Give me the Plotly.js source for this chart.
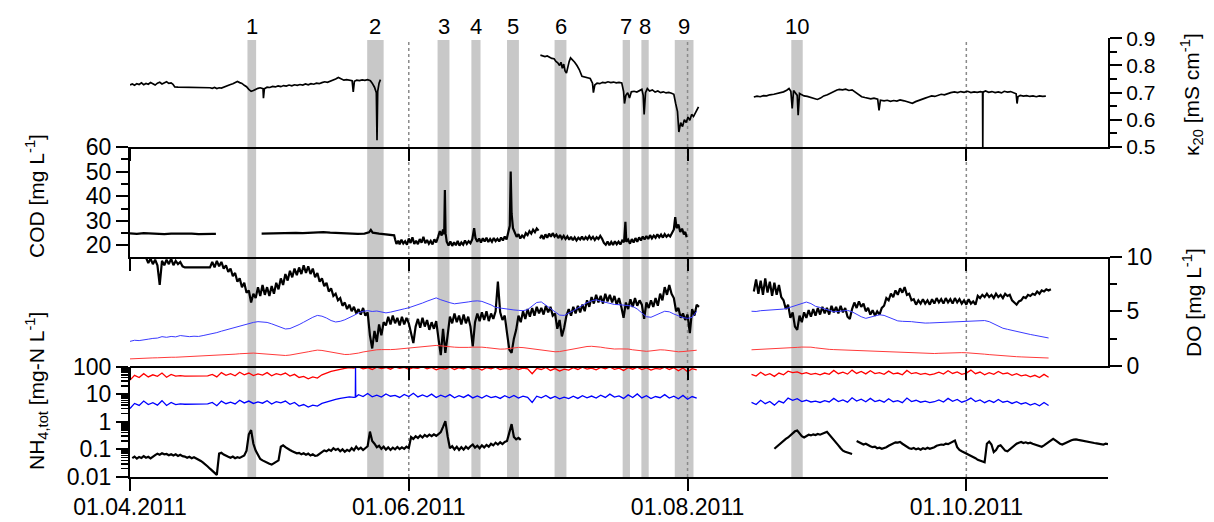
<!DOCTYPE html>
<html><head><meta charset="utf-8">
<script src="https://cdn.plot.ly/plotly-3.0.1.min.js"></script>
<style>html,body{margin:0;padding:0;background:#fff}#chart{width:1214px;height:522px}</style>
</head><body><div id="chart"></div>
<script>
// ---------------- DATA (days counted from 01.04.2011 00:00) ----------------
// Event periods (grey bands) and their numbers
const eventStart = [25.7, 51.9, 67.3, 74.7, 82.5, 92.9, 107.8, 111.9, 119.2, 144.7];
const eventEnd   = [27.6, 55.5, 69.9, 76.7, 85.1, 95.5, 109.4, 113.5, 123.3, 147.2];
const eventLabels = ['1','2','3','4','5','6','7','8','9','10'];

// x-axis tick dates and labels
const dateTicks = ['2011-04-01','2011-06-01','2011-08-01','2011-10-01'];
const dateTickText = ['01.04.2011','01.06.2011','01.08.2011','01.10.2011'];
const refLineDates = ['2011-06-01','2011-08-01','2011-10-01'];

// kappa20 conductivity [mS/cm]: [day, value]
const kappa = [
[0,.728],[0.5,.732],[1,.727],[1.5,.733],[2,.730],[2.5,.736],[3,.729],[3.5,.734],[4,.731],[4.5,.737],
[5,.733],[5.5,.728],[6,.735],[6.5,.738],[7,.732],[7.5,.736],[8,.740],[8.5,.734],[9,.736],[9.4,.731],
[9.8,.721],[10.5,.720],[12,.720],[14,.719],[16,.719],[17.5,.718],[18,.716],[18.5,.719],[19,.715],[19.5,.718],
[20,.717],[20.5,.721],[21,.724],[21.5,.727],[22,.730],[22.5,.733],[23,.736],[23.5,.741],[24,.737],[24.5,.734],
[25,.727],[25.5,.722],[26,.712],[26.5,.705],[27,.708],[27.5,.713],[28,.716],[28.5,.718],[29.1,.715],[29.2,.680],
[29.4,.714],[30,.720],[30.6,.719],[31.2,.723],[31.8,.721],[32.4,.725],[33,.722],[33.6,.726],[34.2,.724],[34.8,.728],
[35.4,.725],[36,.729],[36.6,.727],[37.2,.730],[37.8,.728],[38.4,.732],[39,.729],[39.6,.733],[40.2,.731],[40.8,.735],
[41.4,.733],[42,.737],[42.6,.740],[43.2,.738],[43.8,.742],[44.4,.745],[45,.750],[45.6,.756],[46.2,.750],[46.8,.746],
[47.4,.748],[48,.745],[48.6,.744],[48.85,.703],[49.1,.742],[49.6,.746],[50.2,.744],[50.8,.747],[51.4,.745],[52,.748],
[52.6,.744],[53,.735],[53.5,.720],[53.9,.700],[54.05,.525],[54.2,.705],[54.5,.735],[54.8,.748],[56,null],
[89.8,.838],[90.3,.836],[90.8,.833],[91.3,.835],[91.8,.829],[92.3,.826],[92.8,.825],[93.2,.815],[93.6,.810],[94.0,.800],
[94.3,.812],[94.6,.790],[94.9,.805],[95.2,.780],[95.5,.772],[95.8,.800],[96.1,.815],[96.4,.828],[96.8,.822],[97.3,.812],
[97.8,.800],[98.3,.785],[98.9,.760],[99.5,.758],[100.1,.756],[100.7,.752],[101.2,.735],[101.4,.700],[101.7,.728],[102.2,.735],
[102.8,.733],[103.4,.738],[104.0,.736],[104.6,.740],[105.2,.737],[105.8,.739],[106.4,.736],[107.0,.738],[107.6,.736],[108.0,.705],
[108.2,.660],[108.5,.690],[108.9,.700],[109.3,.680],[109.7,.703],[110.3,.705],[110.9,.702],[111.5,.708],[112.0,.712],[112.3,.690],
[112.5,.620],[112.8,.700],[113.2,.715],[113.7,.706],[114.3,.710],[114.9,.702],[115.5,.706],[116.1,.700],[116.7,.703],[117.3,.699],
[117.9,.701],[118.5,.698],[119.0,.694],[119.4,.660],[119.8,.630],[120.1,.555],[120.5,.590],[120.9,.575],[121.3,.600],[121.7,.590],
[122.1,.610],[122.5,.598],[122.9,.620],[123.3,.612],[123.7,.628],[124.0,.635],[124.4,.648],[130,null],
[136.5,.684],[137.2,.687],[137.9,.685],[138.6,.689],[139.3,.688],[140.0,.692],[140.9,.694],[141.6,.697],[142.3,.699],[143.0,.703],
[143.7,.709],[144.2,.715],[144.6,.705],[144.9,.642],[145.2,.708],[145.6,.700],[146.0,.690],[146.2,.617],[146.5,.697],[146.9,.693],
[147.5,.688],[148.2,.686],[148.9,.683],[149.6,.679],[150.4,.675],[151.1,.680],[151.8,.688],[152.6,.692],[153.3,.698],[154.0,.705],
[154.7,.710],[155.2,.712],[155.9,.710],[156.6,.713],[157.3,.708],[158.0,.710],[158.7,.702],[159.4,.692],[160.1,.685],[160.8,.682],
[161.5,.679],[162.1,.677],[162.8,.680],[163.6,.676],[163.9,.635],[164.2,.672],[165.0,.670],[165.7,.672],[166.4,.668],[167.1,.671],
[167.8,.669],[168.5,.673],[169.4,.670],[170.2,.666],[171.2,.661],[171.9,.667],[172.6,.672],[173.3,.676],[174.0,.680],[174.7,.684],
[175.4,.688],[176.1,.686],[176.8,.691],[177.5,.694],[178.2,.692],[178.9,.697],[179.6,.700],[180.4,.703],[181.1,.700],[181.8,.704],
[182.5,.701],[183.3,.705],[184.0,.700],[184.7,.703],[185.4,.701],[186.1,.704],[186.55,.702],[186.6,.500],[186.65,.702],[187.2,.706],
[187.9,.701],[188.6,.704],[189.3,.700],[190.0,.703],[190.7,.699],[191.3,.705],[192.0,.702],[192.7,.704],[193.4,.700],[193.9,.696],
[194.1,.660],[194.3,.685],[194.8,.690],[195.5,.687],[196.2,.689],[196.9,.686],[197.6,.688],[198.3,.685],[199.0,.688],[199.7,.686],
[200.4,.687]
];

// COD [mg/L]: [day, value]
const cod = [
[0,24.9],[1.5,24.7],[3,25.0],[4.5,24.8],[6,24.9],[7.5,24.6],[9,24.8],[10.5,24.9],[12,24.7],[13.5,24.8],
[15,24.6],[16.5,24.8],[18,24.7],[18.8,24.7],[23,null],
[28.8,24.8],[30.3,24.9],[31.8,24.7],[33.3,25.0],[34.8,24.9],[36.3,25.1],[37.8,25.0],[39.3,25.2],[40.8,25.1],[42.3,25.4],
[43.8,25.2],[45.3,25.0],[46.8,24.9],[48.3,24.8],[49.8,24.7],[51.3,24.8],[52.3,25.3],[52.7,26.3],[53.1,25.2],[54.5,24.8],
[56,24.6],[57.3,24.4],[57.8,24.1],
[58.0,22.5],[58.3,20.6],[58.7,21.9],[59.0,20.4],[59.4,22.3],[59.8,20.8],[60.2,21.7],[60.6,20.3],[61.0,22.8],[61.4,21.0],
[61.8,23.3],[62.2,20.6],[62.6,21.9],[63.0,20.5],[63.4,22.6],[63.8,21.1],[64.2,23.5],[64.6,20.9],[65.0,22.2],[65.4,20.7],
[65.8,21.8],[66.2,20.4],[66.6,22.5],[67.0,21.2],[67.4,23.4],[67.8,25.8],[68.2,24.0],[68.5,26.5],[68.75,24.5],[68.9,42.5],
[69.05,25.0],[69.3,21.5],[69.7,20.0],[70.1,21.6],[70.5,19.8],[70.9,21.3],[71.3,20.1],[71.7,21.8],[72.1,19.9],[72.5,21.2],
[72.9,20.3],[73.3,22.0],[73.7,20.6],[74.1,21.7],[74.5,20.9],[74.9,22.5],[75.3,27.0],[75.6,23.0],[76.0,21.5],[76.4,22.8],
[76.8,21.2],[77.2,22.9],[77.6,21.6],[78.0,23.1],[78.4,21.4],[78.8,22.6],[79.2,21.5],[79.6,23.0],[80.0,21.8],[80.4,22.7],
[80.8,21.6],[81.2,23.2],[81.6,22.0],[82.0,23.6],[82.4,22.4],[82.8,25.0],[83.1,28.0],[83.3,50.0],[83.5,33.0],[83.8,27.0],
[84.2,25.5],[84.6,23.5],[85.0,24.6],[85.4,22.8],[85.8,24.0],[86.2,23.2],[86.6,25.0],[87.0,24.2],[87.4,25.8],[87.8,24.8],
[88.2,26.4],[88.6,25.4],[89.0,26.9],[89.4,26.0],[89.55,null],
[89.7,22.8],[90.1,24.2],[90.5,22.6],[90.9,24.5],[91.3,23.1],[91.7,24.8],[92.1,23.5],[92.5,25.0],[92.9,23.6],[93.3,24.4],
[93.7,23.0],[94.1,24.2],[94.5,22.8],[94.9,23.9],[95.3,22.6],[95.7,23.7],[96.1,22.3],[96.5,23.5],[96.9,22.1],[97.3,23.3],
[97.7,22.0],[98.1,23.1],[98.5,22.4],[98.9,23.6],[99.3,22.2],[99.7,23.4],[100.1,22.5],[100.5,23.8],[100.9,22.6],[101.3,23.5],
[101.7,22.2],[102.1,23.3],[102.5,22.6],[102.9,23.9],[103.3,22.7],[103.7,21.0],[104.1,20.3],[104.5,21.6],[104.9,20.1],[105.3,21.4],
[105.7,20.2],[106.1,21.7],[106.5,20.5],[106.9,21.5],[107.3,20.4],[107.7,22.0],[108.1,21.3],[108.4,29.6],[108.6,21.5],[109.0,22.4],
[109.4,20.7],[109.8,22.6],[110.2,21.2],[110.6,23.0],[111.0,21.5],[111.4,23.3],[111.8,22.0],[112.2,23.6],[112.6,22.4],[113.0,23.8],
[113.4,22.6],[113.8,24.2],[114.2,22.9],[114.6,24.0],[115.0,23.1],[115.4,24.5],[115.8,23.3],[116.2,24.4],[116.6,23.2],[117.0,24.6],
[117.4,23.5],[117.8,24.3],[118.2,23.6],[118.6,25.0],[119.0,26.5],[119.3,31.5],[119.6,27.0],[120.0,28.5],[120.4,25.5],[120.8,26.8],
[121.2,24.5],[121.5,25.5],[121.8,23.3]
];

// DO [mg/L], black, sampled every 0.5 day
const doStep = 0.5;
const doBlackStartA = 3.5;
const doBlackA = [
9.9,9.4,9.8,9.3,9.7,9.2,7.4,9.6,9.2,9.7,
9.3,9.8,9.2,9.6,9.3,9.5,9.1,9.0,9.0,9.0,
9.0,9.0,9.0,9.0,9.0,9.0,9.0,9.0,9.0,9.5,
9.0,9.6,9.1,9.5,8.9,9.2,8.6,8.9,8.2,8.5,
7.7,8.0,7.2,7.6,6.7,6.9,5.8,6.6,6.2,7.2,
6.4,7.4,6.5,7.2,6.4,7.3,6.6,7.6,7.0,8.0,
7.4,8.4,7.8,8.7,8.1,8.9,8.3,9.0,8.4,9.2,
8.5,9.1,8.4,8.9,8.1,8.5,7.7,8.0,7.3,7.6,
6.8,7.1,6.4,6.6,6.0,6.2,5.5,5.8,5.2,5.6,
5.0,5.4,4.8,5.2,4.7,5.3,4.6,4.9,2.8,1.6,
3.2,2.2,3.8,2.8,4.0,3.7,4.5,3.8,4.6,3.9,
4.4,3.7,4.5,3.8,4.4,3.9,3.0,2.1,3.6,4.3,
3.5,4.4,3.6,4.2,3.3,4.0,3.4,4.1,2.5,1.0,
3.4,1.2,2.8,4.5,3.9,4.8,4.0,4.6,3.8,4.7,
3.9,4.5,3.6,1.8,4.0,4.8,4.1,4.9,4.2,5.0,
4.1,4.8,4.3,5.0,7.7,4.9,4.2,4.6,3.0,1.5,
1.2,2.5,3.3,4.6,4.0,5.0,4.3,5.2,4.5,5.3,
4.6,5.4,4.8,5.3,4.7,5.5,4.9,5.4,4.6,4.8,
3.4,4.2,2.7,3.5,4.6,5.2,4.6,5.4,4.8,5.5,
4.9,5.6,5.0,6.0,5.4,6.3,5.7,6.5,5.8,6.4,
5.7,6.6,5.9,6.5,5.8,6.4,5.6,6.2,5.4,4.4,
5.8,5.2,6.1,5.4,6.2,5.5,6.0,5.6,4.3,5.8,
5.3,6.0,5.4,6.2,5.5,6.6,6.0,7.2,6.5,7.4,
6.6,6.2,5.0,5.3,4.4,4.8,4.2,4.7,3.0,5.2,
4.6,5.6,5.4
];
const doBlackStartB = 136.5;
const doBlackB = [
6.8,7.9,6.6,7.8,6.5,8.0,6.7,7.7,6.4,7.6,
6.5,7.4,6.3,6.0,5.2,5.6,4.4,4.9,3.6,3.3,
4.6,4.0,4.9,4.4,5.1,4.5,5.2,4.6,5.3,4.7,
5.4,4.8,5.3,4.7,5.5,4.9,5.4,4.8,5.5,4.9,
5.3,4.5,4.3,5.2,5.8,5.3,5.9,5.4,5.7,5.0,
5.3,4.7,5.1,4.6,5.0,4.7,5.3,5.5,6.2,6.0,
6.6,6.3,6.9,6.5,7.1,6.7,7.2,6.5,6.6,6.0,
6.1,5.6,6.0,5.7,6.1,5.7,6.0,5.6,6.1,5.7,
6.2,5.8,6.1,5.7,6.2,5.8,6.1,5.7,6.2,5.8,
6.1,5.7,6.0,5.6,6.1,5.7,5.9,5.6,6.4,6.2,
6.5,6.3,6.6,6.3,6.5,6.2,6.6,6.3,6.5,6.2,
6.6,6.4,6.5,6.0,5.8,5.6,5.9,6.0,6.3,6.2,
6.5,6.4,6.6,6.5,6.8,6.6,6.9,6.8,7.0,6.9,
7.0
];

// Blue and red series on the DO axis, sampled daily
const dailyStep = 1;
const blueDoStartA = 0;
const blueDoA = [
2.25,2.35,2.32,2.42,2.45,2.52,2.55,2.68,2.62,2.70,
2.66,2.78,2.70,2.68,2.72,2.70,2.78,2.85,2.92,3.05,
3.18,3.30,3.42,3.55,3.68,3.78,3.90,3.98,4.05,4.02,
3.98,3.85,3.70,3.52,3.38,3.42,3.58,3.78,4.00,4.25,
4.45,4.62,4.55,4.38,4.15,4.02,4.08,4.22,4.40,4.62,
4.85,5.00,5.05,4.98,5.02,4.90,4.85,4.92,5.00,5.10,
5.22,5.32,5.45,5.60,5.75,5.92,6.10,6.22,6.05,5.90,
5.78,5.68,5.72,5.80,5.85,5.92,5.95,5.90,5.75,5.58,
5.35,5.28,5.22,5.18,5.12,5.08,5.05,5.15,5.45,5.80,
5.85,5.55,5.20,4.90,4.65,4.62,4.80,5.05,5.30,5.55,
5.78,5.95,6.05,5.92,5.80,5.70,5.62,5.60,5.58,5.52,
5.45,5.20,4.85,4.50,4.45,4.60,4.82,5.00,4.95,4.75,
4.55,4.42,4.35,4.45,5.00
];
const blueDoStartB = 136;
const blueDoB = [
5.00,4.98,5.05,5.08,5.05,5.12,5.15,5.20,5.30,5.45,
5.60,5.72,5.84,5.70,5.45,5.35,5.20,5.05,4.95,4.98,
5.05,5.08,4.95,4.70,4.50,4.35,4.45,4.60,4.68,4.62,
4.45,4.25,4.12,4.08,4.10,4.05,4.00,3.95,3.92,3.93,
3.95,3.98,3.96,4.00,4.03,4.05,4.08,4.10,4.12,4.15,
4.17,4.15,4.05,3.85,3.62,3.45,3.35,3.25,3.12,3.05,
2.98,2.88,2.80,2.72,2.62,2.56
];
const redDoStartA = 0;
const redDoA = [
0.65,0.68,0.70,0.72,0.72,0.74,0.75,0.78,0.78,0.80,
0.80,0.82,0.82,0.84,0.85,0.86,0.88,0.90,0.92,0.95,
0.98,1.02,1.05,1.08,1.12,1.15,1.18,1.18,1.15,1.12,
1.10,1.06,1.02,0.98,0.96,1.00,1.06,1.14,1.22,1.30,
1.38,1.45,1.42,1.35,1.25,1.15,1.08,1.05,1.06,1.10,
1.18,1.28,1.36,1.44,1.48,1.50,1.48,1.50,1.52,1.56,
1.62,1.66,1.70,1.74,1.78,1.82,1.86,1.88,1.84,1.78,
1.74,1.72,1.70,1.68,1.70,1.72,1.74,1.72,1.68,1.62,
1.56,1.54,1.55,1.60,1.66,1.70,1.68,1.62,1.55,1.48,
1.42,1.36,1.32,1.30,1.32,1.40,1.50,1.60,1.68,1.74,
1.78,1.80,1.78,1.72,1.65,1.58,1.55,1.56,1.58,1.55,
1.48,1.42,1.36,1.34,1.38,1.44,1.48,1.46,1.40,1.34,
1.30,1.32,1.38,1.42,1.44
];
const redDoStartB = 136;
const redDoB = [
1.48,1.50,1.50,1.52,1.54,1.55,1.57,1.58,1.62,1.66,
1.70,1.73,1.75,1.72,1.66,1.60,1.55,1.52,1.50,1.48,
1.46,1.44,1.42,1.40,1.38,1.37,1.35,1.33,1.31,1.29,
1.27,1.25,1.23,1.21,1.19,1.17,1.15,1.14,1.13,1.13,
1.14,1.16,1.18,1.20,1.21,1.22,1.22,1.21,1.19,1.16,
1.12,1.08,1.04,1.00,0.97,0.94,0.91,0.88,0.85,0.83,
0.81,0.79,0.77,0.75,0.74,0.73
];

// NH4,tot panel [mg-N/L], red and blue daily
const redNStartA = 0;
const redNA = [
32,48,40,55,42,50,44,58,41,52,
45,47,45,45,45,45,45,46,52,42,
60,48,55,46,62,50,58,47,54,49,
60,46,55,50,58,45,52,40,44,36,
42,38,50,58,66,72,80,85,92,88,
96,82,90,78,95,84,92,80,97,86,
93,79,90,85,98,82,92,76,88,80,
94,78,90,83,97,80,88,74,91,82,
95,78,86,80,93,77,88,82,55,85,
78,92,72,84,68,80,74,90,78,94,
80,88,76,92,82,96,79,87,72,91,
80,94,77,89,74,86,80,95,78,90,
70,88,65,84,75
];
const redNStartB = 136;
const redNB = [
52,45,62,48,55,44,58,50,68,60,
64,54,60,52,56,50,58,52,72,55,
62,53,74,56,66,54,70,55,60,52,
68,54,58,50,72,55,60,52,56,50,
54,62,53,70,56,64,52,58,74,55,
63,50,60,52,66,54,58,48,55,46,
50,42,48,40,52,41
];
const blueNStartA = 0;
const blueNA = [
3.0,4.6,3.9,5.6,4.2,4.9,4.0,5.8,3.9,5.0,
4.2,4.4,4.3,4.3,4.3,4.3,4.3,4.4,5.0,3.8,
5.6,4.5,5.1,4.4,6.0,4.8,5.6,4.6,5.2,4.7,
5.8,4.4,5.3,4.8,5.6,4.3,5.0,3.7,4.2,3.4,
4.0,3.7,4.6,5.2,5.8,6.4,7.0,7.4,8.0,7.6,
9.5,8.2,10.5,8.0,9.2,7.8,10.2,8.4,9.0,7.6,
9.8,8.2,10.8,7.9,9.4,8.0,10.0,7.5,9.2,7.8,
9.6,7.4,8.8,7.6,9.4,7.3,8.6,7.2,9.0,7.5,
8.2,7.0,8.8,7.4,9.0,7.2,8.5,7.6,5.0,8.4,
7.3,9.0,7.0,8.2,6.8,7.8,6.9,8.4,7.0,8.8,
7.4,8.5,7.2,9.2,7.6,10.0,7.8,8.6,7.0,9.4,
7.5,10.2,7.3,8.8,6.9,8.2,7.4,9.6,7.2,8.4,
6.8,9.0,6.5,8.2,7.2
];
const blueNSpike = [[49.3,7.7],[49.35,95],[49.4,7.8]];
const blueNStartB = 136;
const blueNB = [
5.0,4.2,6.0,4.5,5.4,4.0,5.6,4.8,7.2,6.0,
6.8,5.4,6.0,5.2,5.6,5.0,5.8,5.2,7.0,5.4,
6.2,5.1,7.4,5.6,6.6,5.3,7.0,5.4,6.0,5.1,
6.8,5.3,5.8,4.9,7.2,5.4,6.0,5.1,5.6,4.9,
5.3,6.2,5.2,7.0,5.5,6.4,5.1,5.8,7.2,5.4,
6.2,4.9,5.9,5.0,6.4,5.1,5.6,4.6,5.3,4.4,
4.9,4.0,4.6,3.8,5.0,3.9
];
// NH4,tot (black), every 0.5 day
const nh4Step = 0.5;
const nh4StartA = 0.5;
const nh4A = [
0.048,0.055,0.046,0.053,0.049,0.057,0.050,0.054,0.047,0.056,
0.062,0.070,0.064,0.072,0.066,0.068,0.061,0.067,0.060,0.066,
0.058,0.064,0.057,0.055,0.050,0.054,0.048,0.052,0.047,0.045,
0.038,0.033,0.027,0.024,0.020,0.017,0.014,0.012,0.070,0.075,
0.065,0.058,0.054,0.050,0.055,0.048,0.052,0.049,0.055,0.060,
0.090,0.350,0.500,0.160,0.090,0.060,0.045,0.040,0.036,0.032,
0.030,0.028,0.032,0.035,0.040,0.125,0.140,0.120,0.110,0.095,
0.085,0.080,0.072,0.075,0.066,0.072,0.064,0.070,0.060,0.066,
0.058,0.060,0.068,0.080,0.092,0.085,0.098,0.088,0.110,0.095,
0.105,0.085,0.100,0.082,0.096,0.086,0.110,0.092,0.125,0.100,
0.115,0.095,0.108,0.130,0.440,0.200,0.160,0.120,0.135,0.105,
0.125,0.098,0.118,0.095,0.115,0.100,0.122,0.102,0.118,0.104,
0.125,0.110,0.280,0.240,0.300,0.260,0.320,0.270,0.330,0.290,
0.340,0.300,0.350,0.310,0.360,0.420,0.650,1.050,0.300,0.110,
0.130,0.100,0.125,0.095,0.120,0.098,0.125,0.105,0.130,0.150,
0.115,0.135,0.110,0.140,0.118,0.145,0.125,0.160,0.140,0.175,
0.150,0.180,0.155,0.185,0.200,0.450,0.820,0.280,0.230,0.260,
0.220
];
const nh4StartB = 141.0;
const nh4B = [
0.105,0.125,0.150,0.180,0.200,0.240,0.270,0.320,0.380,0.450,
0.480,0.360,0.300,0.270,0.310,0.340,0.320,0.350,0.330,0.360,
0.340,0.380,0.400,0.430,0.350,0.280,0.220,0.180,0.140,0.110,
0.090,0.082,0.078,0.072,0.068,null,0.200,0.180,0.165,0.150,
0.160,0.140,0.130,0.120,0.125,0.110,0.115,0.105,0.110,0.120,
0.135,0.150,0.165,0.180,0.175,0.185,0.160,0.140,0.120,0.110,
0.105,0.112,0.100,0.108,0.098,0.110,0.102,0.115,0.105,0.110,
0.120,0.135,0.140,0.150,0.145,0.160,0.155,0.175,0.190,0.210,
0.120,0.095,0.085,0.078,0.070,0.065,0.058,0.052,0.048,0.042,
0.040,0.036,0.034,0.160,0.190,0.150,0.080,0.095,0.130,0.140,
0.110,0.090,0.085,0.100,0.120,0.140,0.160,0.175,0.185,0.170,
0.180,0.165,0.175,0.160,0.150,0.140,0.130,0.125,0.140,0.160,
0.190,0.220,0.240,0.210,0.180,0.160,0.150,0.165,0.180,0.200,
0.215,0.225,0.230,0.220,0.210,0.205,0.195,0.190,0.180,0.175,
0.170,0.165,0.160,0.155,0.150,0.160,0.155
];

// ---------------- helpers ----------------
const T0 = Date.UTC(2011, 3, 1);
function toDate(d){ return new Date(T0 + d*86400000).toISOString().slice(0,19).replace('T',' '); }
function fromPairs(p){ return {x: p.map(a=>toDate(a[0])), y: p.map(a=>a[1])}; }
function fromRuns(runs, extras){
  let pts = [];
  runs.forEach((r,k)=>{
    if(k>0) pts.push([r[0]-r[1]/2, null]);
    r[2].forEach((v,i)=>pts.push([r[0]+i*r[1], v]));
  });
  if(extras){ pts = pts.concat(extras); pts.sort((a,b)=>a[0]-b[0]); }
  return fromPairs(pts);
}

const FONT = 'Liberation Sans, Arial, Helvetica, sans-serif';
const BLACK = '#000';

function line(data, xa, ya, color, width){
  return Object.assign({type:'scatter', mode:'lines', xaxis:xa, yaxis:ya,
    line:{color:color, width:width}, hoverinfo:'skip', showlegend:false}, data);
}

const traces = [
  line(fromPairs(kappa), 'x2','y', BLACK, 1.7),
  line(fromPairs(cod), 'x3','y2', BLACK, 2.2),
  line(fromRuns([[doBlackStartA, doStep, doBlackA],[doBlackStartB, doStep, doBlackB]]), 'x4','y3', BLACK, 2.2),
  line(fromRuns([[blueDoStartA, dailyStep, blueDoA],[blueDoStartB, dailyStep, blueDoB]]), 'x4','y3', '#3a3aff', 1),
  line(fromRuns([[redDoStartA, dailyStep, redDoA],[redDoStartB, dailyStep, redDoB]]), 'x4','y3', '#ff3a3a', 1),
  line(fromRuns([[redNStartA, dailyStep, redNA],[redNStartB, dailyStep, redNB]]), 'x','y4', '#ff0000', 1.3),
  line(fromRuns([[blueNStartA, dailyStep, blueNA],[blueNStartB, dailyStep, blueNB]], blueNSpike), 'x','y4', '#0000ff', 1.3),
  line(fromRuns([[nh4StartA, nh4Step, nh4A],[nh4StartB, nh4Step, nh4B]]), 'x','y4', BLACK, 2.2)
];

// ---------------- layout ----------------
const xRange = [toDate(0), toDate(214)];
function xax(anchor, labels){
  return {type:'date', range:xRange, anchor:anchor, domain:[0,1],
    tickmode:'array', tickvals:dateTicks, ticktext:dateTickText, showticklabels:labels,
    ticks:'outside', ticklen:12, tickwidth:2, tickcolor:BLACK,
    showline:true, linewidth:2, linecolor:BLACK, showgrid:false, zeroline:false,
    tickfont:{family:FONT, size:23, color:BLACK}};
}
const yBase = {showline:true, linewidth:2, linecolor:BLACK, ticks:'outside', ticklen:12, tickwidth:2,
  tickcolor:BLACK, showgrid:false, zeroline:false, fixedrange:true};

const nh4Minor = [];
[0.01,0.1,1,10].forEach(dec=>{ for(let m=2;m<=9;m++) nh4Minor.push(+(m*dec).toPrecision(3)); });

const H = 457; // plot height in px (522 - 20 - 45)
function pf(py){ return (477 - py)/H; }   // page y pixel -> paper fraction
function px(x){ return (x - 130)/978; }   // page x pixel -> paper fraction

const shapes = [];
eventStart.forEach((s,i)=>{
  shapes.push({type:'rect', xref:'x', yref:'paper', x0:toDate(s), x1:toDate(eventEnd[i]),
    y0:0, y1:pf(40), fillcolor:'#c8c8c8', line:{width:0}, layer:'below'});
});
refLineDates.forEach(d=>{
  shapes.push({type:'line', xref:'x', yref:'paper', x0:d, x1:d, y0:0, y1:pf(40),
    line:{color:'#8a8a8a', width:1.5, dash:'dot'}, layer:'below'});
});

const annotations = eventLabels.map((t,i)=>({
  text:t, xref:'x', yref:'paper', x:toDate((eventStart[i]+eventEnd[i])/2), y:pf(27),
  showarrow:false, xanchor:'center', yanchor:'middle', font:{family:FONT, size:22, color:BLACK}
}));
function title(text, x, y){
  return {text:text, xref:'paper', yref:'paper', x:px(x), y:pf(y), textangle:-90, showarrow:false,
    xanchor:'center', yanchor:'middle', font:{family:FONT, size:21, color:BLACK}};
}
annotations.push(title('COD [mg L<sup>-1</sup>]', 35, 196));
annotations.push(title('NH<sub>4,tot</sub> [mg-N L<sup>-1</sup>]', 36, 391));
annotations.push(title('κ<sub>20</sub> [mS cm<sup>-1</sup>]', 1192, 95));
annotations.push(title('DO [mg L<sup>-1</sup>]', 1192, 303));

const layout = {
  width:1214, height:522, margin:{l:130, r:106, t:20, b:45},
  paper_bgcolor:'#fff', plot_bgcolor:'rgba(0,0,0,0)',
  font:{family:FONT, color:BLACK}, showlegend:false, hovermode:false,
  xaxis: Object.assign(xax('y4', true), {ticklabelstandoff:-4}),
  xaxis2: Object.assign(xax('y', false), {matches:'x'}),
  xaxis3: Object.assign(xax('y2', false), {matches:'x'}),
  xaxis4: Object.assign(xax('y3', false), {matches:'x'}),
  yaxis: Object.assign({}, yBase, {domain:[pf(147), pf(38.3)], range:[0.5,0.9], side:'right', anchor:'x2',
    tickmode:'linear', tick0:0.5, dtick:0.1, tickformat:'.1f',
    minor:{ticks:'outside', ticklen:7, tickwidth:2, tickcolor:BLACK, dtick:0.05, tick0:0.5},
    tickfont:{family:FONT, size:21, color:BLACK}}),
  yaxis2: Object.assign({}, yBase, {domain:[pf(257), pf(147)], range:[15.3,60], side:'left', anchor:'x3',
    tickmode:'linear', tick0:0, dtick:10,
    minor:{ticks:'outside', ticklen:7, tickwidth:2, tickcolor:BLACK, dtick:5, tick0:0},
    tickfont:{family:FONT, size:23, color:BLACK}}),
  yaxis3: Object.assign({}, yBase, {domain:[pf(366), pf(256.5)], range:[0,10], side:'right', anchor:'x4',
    tickmode:'array', tickvals:[0,5,10],
    minor:{ticks:'outside', ticklen:7, tickwidth:2, tickcolor:BLACK, tickmode:'array', tickvals:[2.5,7.5]},
    tickfont:{family:FONT, size:23, color:BLACK}}),
  yaxis4: Object.assign({}, yBase, {domain:[0, pf(366.5)], type:'log', range:[-2,2], side:'left', anchor:'x',
    tickmode:'array', tickvals:[0.01,0.1,1,10,100], ticktext:['0.01','0.1','1','10','100'],
    minor:{ticks:'outside', ticklen:7, tickwidth:1.5, tickcolor:BLACK, tickmode:'array', tickvals:nh4Minor},
    tickfont:{family:FONT, size:23, color:BLACK}}),
  shapes: shapes,
  annotations: annotations
};

Plotly.newPlot('chart', traces, layout, {staticPlot:true, displayModeBar:false});
</script>
</body></html>
